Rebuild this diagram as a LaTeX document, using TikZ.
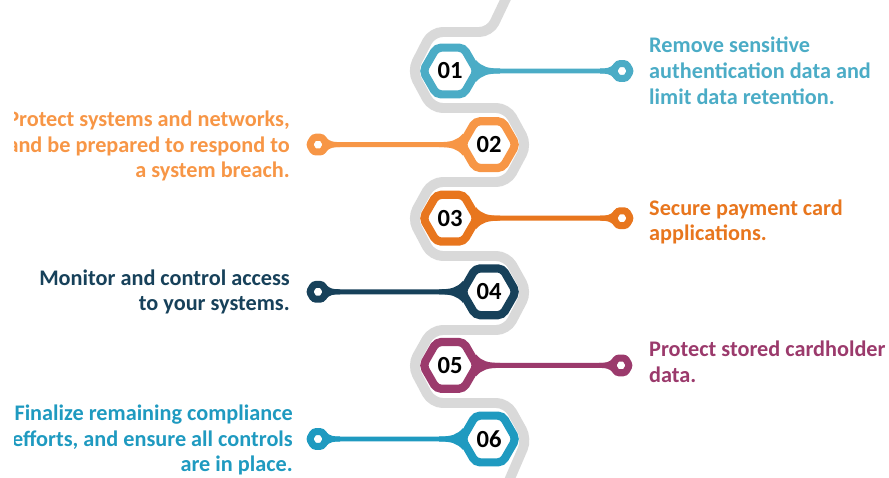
\documentclass[tikz,border=0pt]{standalone}
\usepackage{fontspec}
\setmainfont{Carlito}
\usetikzlibrary{shapes.geometric}
\definecolor{cA}{HTML}{4BACC6}
\definecolor{cB}{HTML}{F79646}
\definecolor{cC}{HTML}{E8761E}
\definecolor{cD}{HTML}{17415A}
\definecolor{cE}{HTML}{9B3A6C}
\definecolor{cF}{HTML}{1F9AC0}
\definecolor{snakegray}{HTML}{D9D9D9}
\begin{document}
\begin{tikzpicture}[x=0.03cm,y=-0.03cm,
	hexnum/.style={regular polygon,regular polygon sides=6,draw=#1,line width=7pt,rounded corners=4pt,fill=white,minimum size=1.62cm,inner sep=0pt,font=\fontsize{21}{21}\selectfont\bfseries},
	ringend/.style={regular polygon,regular polygon sides=6,draw=#1,line width=6pt,rounded corners=2pt,fill=white,minimum size=0.51cm,inner sep=0pt},
	stem/.style={draw=#1,line width=4.2pt},
	lbl/.style={text=#1,font=\fontsize{19}{22}\selectfont\bfseries,inner sep=0pt}]
	\useasboundingbox (0,0) rectangle (889,478);
	\clip (14,0) rectangle (889,478);
	% grey band behind the steps
	\draw[snakegray,line width=8.5pt,rounded corners=9pt] (510,-10) -- (490,32) -- (432,32) -- (412,71) -- (432,108) -- (507,108) -- (527,144.6) -- (507,182) -- (432,182) -- (412,218.2) -- (432,256) -- (507,256) -- (527,291.8) -- (507,330) -- (432,330) -- (412,365.4) -- (432,403) -- (507,403) -- (527,439) -- (505,490);
	% steps
	\foreach \n/\hx/\hy/\rx/\col/\dir in {01/450/71/622/cA/1,02/489/144.6/318/cB/-1,03/450/218.2/622/cC/1,04/489/291.8/318/cD/-1,05/450/365.4/621/cE/1,06/489/439/318/cF/-1}{
		\node[hexnum=\col] (h\n) at (\hx,\hy) {\n};
		\node[ringend=\col] (r\n) at (\rx,\hy) {};
		\draw[stem=\col] (h\n) -- (r\n);
		\begin{scope}[shift={(h\n.center)},xscale=\dir]
			\fill[\col] (26,11) .. controls (32,4) and (38,2.5) .. (50,2.5) -- (50,-2.5) .. controls (38,-2.5) and (32,-4) .. (26,-11) -- cycle;
		\end{scope}
		\begin{scope}[shift={(r\n.center)},xscale=\dir]
			\fill[\col] (-8,7) .. controls (-12,3) and (-15,2.5) .. (-22,2.5) -- (-22,-2.5) .. controls (-15,-2.5) and (-12,-3) .. (-8,-7) -- cycle;
		\end{scope}
	}
	% texts
	\node[lbl=cA,anchor=west,align=left] (t01) at (649,71) {Remove sensitive\\authentication data and\\limit data retention.};
	\node[lbl=cB,anchor=east,align=right] (t02) at (290,146) {Protect systems and networks,\\and be prepared to respond to\\a system breach.};
	\node[lbl=cC,anchor=west,align=left] (t03) at (649,222) {Secure payment card\\applications.};
	\node[lbl=cD,anchor=east,align=right] (t04) at (290,292) {Monitor and control access\\to your systems.};
	\node[lbl=cE,anchor=west,align=left] (t05) at (649,362) {Protect stored cardholder\\data.};
	\node[lbl=cF,anchor=east,align=right] (t06) at (293,440) {Finalize remaining compliance\\efforts, and ensure all controls\\are in place.};
\end{tikzpicture}
\end{document}
